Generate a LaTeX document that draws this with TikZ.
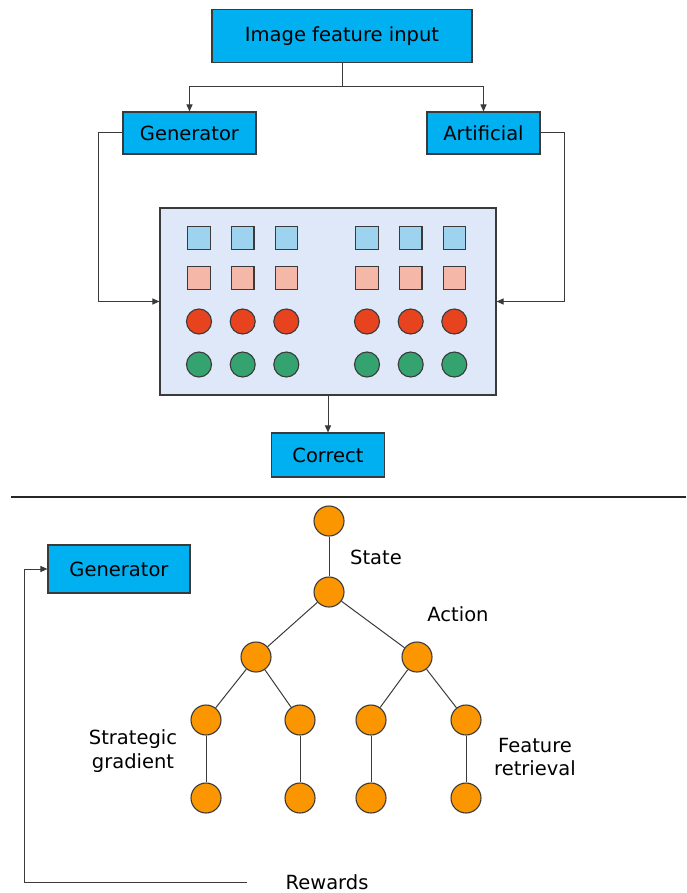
\documentclass[tikz,border=0pt]{standalone}
\usepackage{fontspec}
\setmainfont{DejaVu Sans}
\usetikzlibrary{arrows.meta}
\definecolor{boxblue}{HTML}{00B0F0}
\definecolor{panel}{HTML}{DEE8F8}
\definecolor{sqblue}{HTML}{9DD3EE}
\definecolor{sqpink}{HTML}{F5B8A8}
\definecolor{cred}{HTML}{E8431F}
\definecolor{cgreen}{HTML}{35A36F}
\definecolor{corange}{HTML}{FB9600}
\definecolor{edge}{HTML}{3A3A3A}
\tikzset{
  bluebox/.style={draw=edge, line width=1.1pt, fill=boxblue, inner sep=0pt},
  arr/.style={draw=edge, line width=1pt, -{Triangle[length=7pt,width=6pt]}},
  conn/.style={draw=edge, line width=1pt},
  sqb/.style={draw=edge, line width=1.1pt, fill=sqblue, minimum size=22.5pt, inner sep=0pt},
  sqp/.style={draw=edge, line width=1.1pt, fill=sqpink, minimum size=22.5pt, inner sep=0pt},
  cr/.style={circle, draw=edge, line width=1.1pt, fill=cred, minimum size=25pt, inner sep=0pt},
  cg/.style={circle, draw=edge, line width=1.1pt, fill=cgreen, minimum size=25pt, inner sep=0pt},
  tnode/.style={circle, draw=edge, line width=1.1pt, fill=corange, minimum size=30pt, inner sep=0pt},
  lbl/.style={align=center, inner sep=0pt, font=\fontsize{19.5}{23.5}\selectfont}
}
\begin{document}
\begin{tikzpicture}[x=1pt,y=-1pt,font=\fontsize{19.5}{23.5}\selectfont]
\useasboundingbox (0,0) rectangle (686,893);
% top part
\node[bluebox, minimum width=260pt, minimum height=53pt] (inp) at (342,36) {Image feature input};
\node[bluebox, minimum width=133pt, minimum height=42pt] (gen) at (189.5,133) {Generator};
\node[bluebox, minimum width=113pt, minimum height=42pt] (art) at (483.5,133) {Artificial};
\node[draw=edge, line width=1.1pt, fill=panel, minimum width=336pt, minimum height=187pt, inner sep=0pt] (big) at (328,301.5) {};
\node[bluebox, minimum width=113pt, minimum height=44pt] (cor) at (328,455) {Correct};
\coordinate (br) at (342,87);
\draw[conn] (inp.south) -- (br);
\draw[arr] (br) -| (gen.north);
\draw[arr] (br) -| (art.north);
\draw[arr] (gen.west) -- ++(-24,0) |- (big.west);
\draw[arr] (art.east) -- ++(23.5,0) |- (big.east);
\draw[arr] (big.south) -- (cor.north);
% grid
\foreach \x [count=\i] in {199,242.7,286.3,367,410.7,454.3}{
  \node[sqb] (b\i) at (\x,238) {};
  \node[sqp] (p\i) at (\x,278) {};
  \node[cr] (r\i) at (\x,321.5) {};
  \node[cg] (g\i) at (\x,364.5) {};
}
% divider
\coordinate (d1) at (11,496.5);
\coordinate (d2) at (686,496.5);
\draw[line width=2pt, black!85] (d1) -- (d2);
% bottom part
\node[bluebox, minimum width=142pt, minimum height=48pt] (gen2) at (119,569) {Generator};
\node[tnode] (t0) at (329,521) {};
\node[tnode] (t1) at (329,592) {};
\node[tnode] (t2a) at (256,657) {};
\node[tnode] (t2b) at (417,657) {};
\node[tnode] (t3a) at (206,720) {};
\node[tnode] (t3b) at (300,720) {};
\node[tnode] (t3c) at (371,720) {};
\node[tnode] (t3d) at (466,720) {};
\node[tnode] (t4a) at (206,798) {};
\node[tnode] (t4b) at (300,798) {};
\node[tnode] (t4c) at (371,798) {};
\node[tnode] (t4d) at (466,798) {};
\draw[conn] (t0) -- (t1);
\draw[conn] (t1) -- (t2a);
\draw[conn] (t1) -- (t2b);
\draw[conn] (t2a) -- (t3a);
\draw[conn] (t2a) -- (t3b);
\draw[conn] (t2b) -- (t3c);
\draw[conn] (t2b) -- (t3d);
\draw[conn] (t3a) -- (t4a);
\draw[conn] (t3b) -- (t4b);
\draw[conn] (t3c) -- (t4c);
\draw[conn] (t3d) -- (t4d);
\node[lbl] (st) at (376,557) {State};
\node[lbl] (ac) at (458,614) {Action};
\node[lbl] (fr) at (535,757) {Feature\\retrieval};
\node[lbl] (sg) at (133,751) {Strategic\\gradient};
\node[lbl] (rew) at (327,882) {Rewards};
\coordinate (rl) at (247,882);
\draw[arr] (rl) -- (24,882) |- (gen2.west);
\end{tikzpicture}
\end{document}
